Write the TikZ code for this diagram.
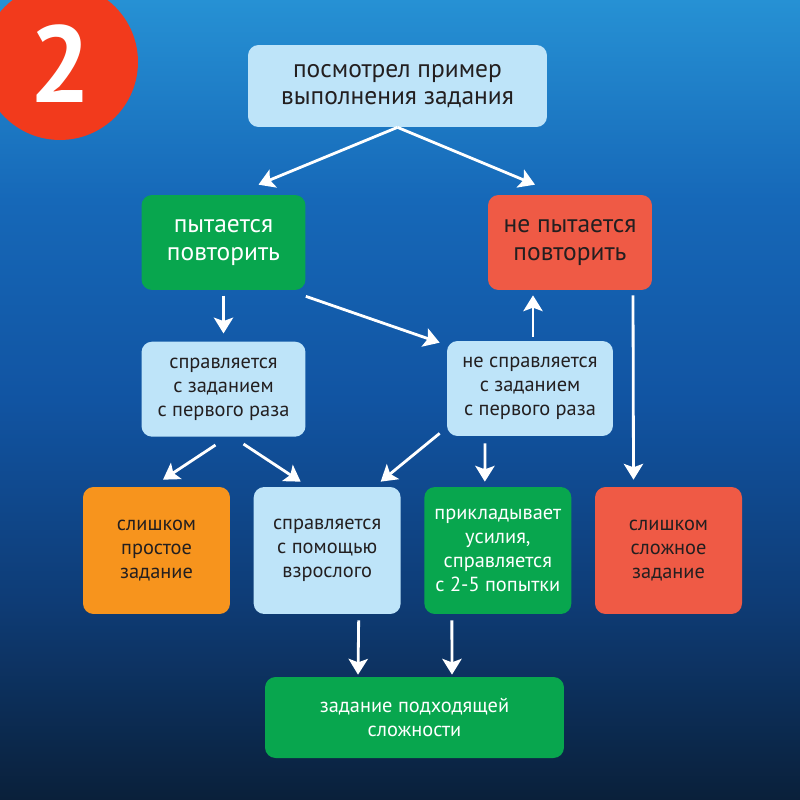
\documentclass[tikz,border=0pt]{standalone}
\usepackage{fontspec}
\setmainfont{PT Sans}
\usepackage{xcolor}
\usetikzlibrary{positioning,arrows.meta,calc}

\definecolor{svetlyj}{RGB}{190,228,249}
\definecolor{zelenyj}{RGB}{8,166,78}
\definecolor{krasnyj}{RGB}{239,90,69}
\definecolor{oranzh}{RGB}{247,148,29}
\definecolor{krug}{RGB}{242,58,28}
\definecolor{tekst}{RGB}{35,31,32}
\definecolor{fon1}{RGB}{38,145,212}
\definecolor{fon2}{RGB}{22,104,184}
\definecolor{fon3}{RGB}{17,84,162}
\definecolor{fon4}{RGB}{14,60,118}
\definecolor{fon5}{RGB}{10,32,58}
% tikz kladet ramku v 25bp..75bp
\pgfdeclareverticalshading{fonvoda}{100bp}{color(0bp)=(fon5); color(25bp)=(fon5); color(37.5bp)=(fon4); color(50bp)=(fon3); color(62.5bp)=(fon2); color(75bp)=(fon1); color(100bp)=(fon1)}

\begin{document}
\begin{tikzpicture}[
    x=0.02cm, y=-0.02cm,
    blok/.style={rounded corners=6pt, align=center, inner sep=2pt, text=tekst},
    bolshoj/.style={blok, font=\fontsize{14.5}{15.5}\selectfont},
    malyj/.style={blok, font=\fontsize{11.6}{13.6}\selectfont},
    shirokij/.style={minimum width=5.98cm, minimum height=1.64cm},
    srednij/.style={minimum width=3.28cm, minimum height=1.9cm},
    kvadrat/.style={minimum width=2.94cm, minimum height=2.54cm},
    strelka/.style={-{Stealth[length=9pt, width=11pt, inset=2pt]}, white, line width=1.6pt},
]
    % fon
    \useasboundingbox (0,0) rectangle (800,800);
    \shade[shading=fonvoda] (0,0) rectangle (800,800);
    \fill[krug] (60,62) circle[radius=1.56cm];
    \node[text=white, font=\fontsize{62}{62}\selectfont\bfseries] (nomer) at (60,64) {2};

    % bloki
    \node[bolshoj, shirokij, fill=svetlyj] (primer) at (397.5,86) {посмотрел пример\\выполнения задания};
    \node[bolshoj, srednij, fill=zelenyj, text=white] (pyt) at (223.5,242.5) {пытается\\повторить};
    \node[bolshoj, srednij, fill=krasnyj] (nepyt) at (570,242.5) {не пытается\\повторить};
    \node[malyj, srednij, fill=svetlyj, below=1.02cm of pyt] (spr) {справляется\\с заданием\\с первого раза};
    \node[malyj, srednij, fill=svetlyj, minimum width=3.32cm] (nespr) at (530,388.5) {не справляется\\с заданием\\с первого раза};
    \node[malyj, kvadrat, fill=oranzh] (prostoe) at (156.5,550.5) {слишком\\простое\\задание};
    \node[malyj, kvadrat, fill=svetlyj, right=0.46cm of prostoe] (pomosh) {справляется\\с помощью\\взрослого};
    \node[malyj, kvadrat, fill=zelenyj, text=white, right=0.46cm of pomosh] (usilie) {прикладывает\\усилия,\\справляется\\с 2-5 попытки};
    \node[malyj, kvadrat, fill=krasnyj, right=0.46cm of usilie] (slozhnoe) {слишком\\сложное\\задание};
    \node[malyj, shirokij, minimum height=1.62cm, fill=zelenyj, text=white] (podhod) at (414.5,717.5) {задание подходящей\\сложности};

    % strelki
    \draw[strelka] (primer.south) -- ($(pyt.north)+(35,-10)$);
    \draw[strelka] (primer.south) -- ($(nepyt.north)+(-35,-10)$);
    \draw[strelka, shorten <=3pt, shorten >=4.5pt] (pyt) -- (spr);
    \draw[strelka] ($(pyt.south east)+(0,6)$) -- ($(nespr.north west)+(-7,2)$);
    \draw[strelka] ($(nespr.north)+(3,-4)$) -- ($(nepyt.south)+(-37,5)$);
    \draw[strelka] ($(nepyt.south)+(63,5)$) -- ($(slozhnoe.north)+(-35,-7)$);
    \draw[strelka] ($(spr.south)+(-8,8)$) -- ($(prostoe.north)+(6.5,-7)$);
    \draw[strelka] ($(spr.south)+(20,7)$) -- ($(pomosh.north)+(-26.5,-5)$);
    \draw[strelka] ($(nespr.south west)+(-7,-3)$) -- ($(pomosh.north)+(53.5,-5)$);
    \draw[strelka] ($(nespr.south)+(-45,7)$) -- ($(usilie.north)+(-13,-5)$);
    \draw[strelka] ($(pomosh.south)+(31.5,6)$) -- ($(podhod.north)+(-56.5,-2)$);
    \draw[strelka] ($(usilie.south)+(-46,6)$) -- ($(podhod.north)+(37.5,-2)$);
\end{tikzpicture}
\end{document}
